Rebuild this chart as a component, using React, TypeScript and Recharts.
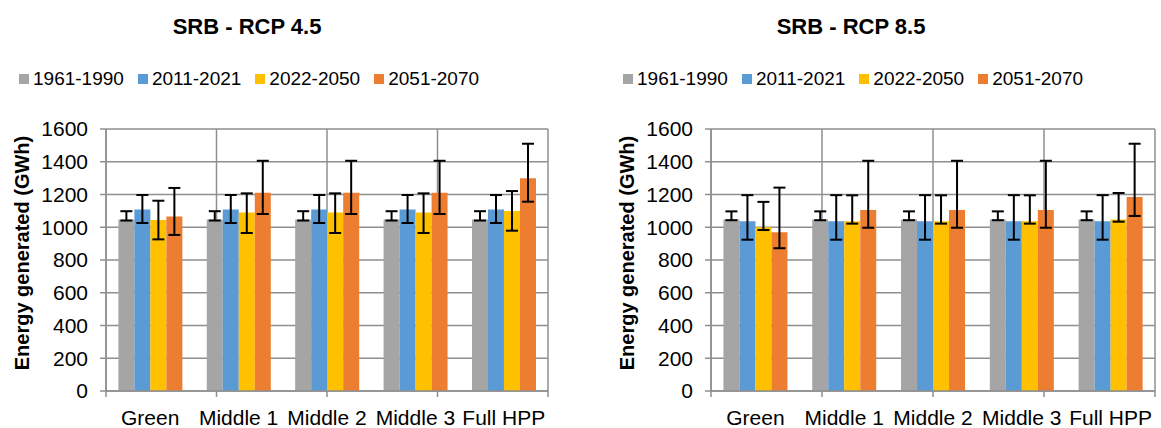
import { BarChart, Bar, XAxis, YAxis, CartesianGrid, ErrorBar } from 'recharts';

const categories = ['Green', 'Middle 1', 'Middle 2', 'Middle 3', 'Full HPP'];
const periods = ['1961-1990', '2011-2021', '2022-2050', '2051-2070'];
const colors = ['#A5A5A5', '#5B9BD5', '#FFC000', '#ED7D31'];
const yTicks = [0, 200, 400, 600, 800, 1000, 1200, 1400, 1600];

// RCP 4.5 — bar value, error bar low end, error bar high end
const rcp45Mean = [
  [1048, 1048, 1048, 1048, 1048],
  [1108, 1108, 1108, 1108, 1108],
  [1045, 1090, 1090, 1090, 1100],
  [1065, 1210, 1210, 1210, 1300],
];
const rcp45Low = [
  [1041, 1041, 1041, 1041, 1041],
  [1026, 1026, 1026, 1026, 1026],
  [926, 965, 965, 965, 979],
  [953, 1081, 1081, 1081, 1156],
];
const rcp45High = [
  [1098, 1098, 1098, 1098, 1098],
  [1197, 1197, 1197, 1197, 1197],
  [1162, 1207, 1207, 1207, 1221],
  [1240, 1406, 1406, 1406, 1510],
];

// RCP 8.5
const rcp85Mean = [
  [1048, 1048, 1048, 1048, 1048],
  [1036, 1036, 1036, 1036, 1036],
  [1000, 1036, 1036, 1036, 1048],
  [970, 1105, 1105, 1105, 1185],
];
const rcp85Low = [
  [1043, 1043, 1043, 1043, 1043],
  [924, 924, 924, 924, 924],
  [983, 1022, 1022, 1022, 1034],
  [872, 997, 997, 997, 1069],
];
const rcp85High = [
  [1097, 1097, 1097, 1097, 1097],
  [1196, 1196, 1196, 1196, 1196],
  [1155, 1195, 1195, 1195, 1209],
  [1242, 1406, 1406, 1406, 1510],
];

const FONT = '"Liberation Sans", Arial, sans-serif';
const GRID = '#8f8f8f';

function buildRows(mean: number[][], low: number[][], high: number[][]) {
  return categories.map((name, i) => {
    const row: any = { name };
    periods.forEach((_, s) => {
      row['v' + s] = mean[s][i];
      row['e' + s] = [mean[s][i] - low[s][i], high[s][i] - mean[s][i]];
    });
    return row;
  });
}

function YLabel(props: any) {
  const { viewBox } = props;
  const x = viewBox.x + 22;
  const y = viewBox.y + viewBox.height / 2 - 7;
  return (
    <text
      x={x} y={y}
      transform={`rotate(-90 ${x} ${y})`}
      textAnchor="middle"
      dominantBaseline="central"
      style={{ fontFamily: FONT, fontSize: 20, fontWeight: 700, fill: '#000' }}
    >
      Energy generated (GWh)
    </text>
  );
}

function Panel({ left, width, title, titleX, legendX, marginLeft, marginRight, rows }: any) {
  return (
    <div style={{ position: 'absolute', left, top: 0, width, height: 428 }}>
      <div style={{
        position: 'absolute', left: titleX - 150, top: 14, width: 300, textAlign: 'center',
        fontFamily: FONT, fontSize: 22, fontWeight: 700, lineHeight: '26px', color: '#000',
      }}>
        {title}
      </div>
      <div style={{
        position: 'absolute', left: legendX, top: 68, display: 'flex', whiteSpace: 'nowrap',
        fontFamily: FONT, fontSize: 19, lineHeight: '22px', color: '#000',
      }}>
        {periods.map((p, s) => (
          <div key={p} style={{ display: 'flex', alignItems: 'center', marginRight: 14 }}>
            <span style={{ width: 10, height: 10, background: colors[s], marginRight: 4, display: 'inline-block' }} />
            <span>{p}</span>
          </div>
        ))}
      </div>
      <BarChart
        width={width} height={428}
        data={rows}
        margin={{ top: 129, right: marginRight, bottom: 2, left: marginLeft }}
        barCategoryGap="14%" barGap={0}
      >
        <CartesianGrid xAxisId="a0" stroke={GRID} strokeWidth={1.5} />
        <XAxis
          xAxisId="a0" type="number" domain={[0, 5]} ticks={[0, 1, 2, 3, 4, 5]}
          height={7} tickSize={6} tickFormatter={() => ''}
          axisLine={{ stroke: GRID, strokeWidth: 1.5 }} tickLine={{ stroke: GRID, strokeWidth: 1.5 }}
        />
        <XAxis
          xAxisId="b1" dataKey="name" height={28}
          axisLine={false} tickLine={false} tickSize={0} tickMargin={12}
          tick={{ fontFamily: FONT, fontSize: 21, fill: '#000' }}
          interval={0}
        />
        <YAxis
          domain={[0, 1600]} ticks={yTicks} width={106}
          tickSize={6} tickMargin={12}
          axisLine={{ stroke: GRID, strokeWidth: 1.5 }} tickLine={{ stroke: GRID, strokeWidth: 1.5 }}
          tick={{ fontFamily: FONT, fontSize: 21, fill: '#000' }}
          label={<YLabel />}
        />
        {periods.map((p, s) => (
          <Bar key={p} xAxisId="b1" dataKey={'v' + s} name={p} fill={colors[s]} isAnimationActive={false}>
            <ErrorBar dataKey={'e' + s} width={6} stroke="#000" strokeWidth={2} isAnimationActive={false} />
          </Bar>
        ))}
      </BarChart>
    </div>
  );
}

export default function App() {
  const rows45 = buildRows(rcp45Mean, rcp45Low, rcp45High);
  const rows85 = buildRows(rcp85Mean, rcp85Low, rcp85High);
  return (
    <div style={{ position: 'absolute', left: 0, top: 0, width: 1161, height: 428, background: '#fff' }}>
      <Panel left={0} width={560} title="SRB - RCP 4.5" titleX={247} legendX={19}
        marginLeft={0} marginRight={12} rows={rows45} />
      <Panel left={580} width={581} title="SRB - RCP 8.5" titleX={271} legendX={43}
        marginLeft={25} marginRight={6} rows={rows85} />
    </div>
  );
}
